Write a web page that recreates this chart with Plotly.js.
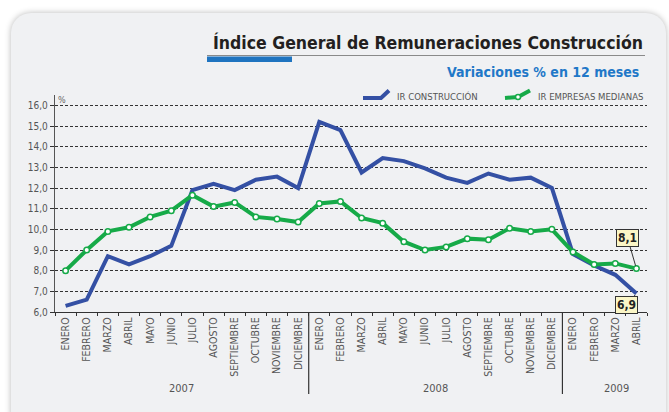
<!DOCTYPE html>
<html>
<head>
<meta charset="utf-8">
<script src="https://cdn.plot.ly/plotly-3.0.1.min.js"></script>
<style>
  html, body { margin: 0; padding: 0; background: #ffffff; width: 669px; height: 412px; overflow: hidden; }
  #card { position: absolute; left: 11px; top: 13px; width: 655px; height: 420px; border-radius: 20px;
          background: #f0f1f3; box-shadow: 0 0 6px rgba(0,0,0,0.28); }
  #chart { position: absolute; left: 0; top: 0; width: 669px; height: 412px; }
</style>
</head>
<body>
<div id="card"></div>
<div id="chart"></div>
<script>
// ---- Data ----
const months = ['ENERO','FEBRERO','MARZO','ABRIL','MAYO','JUNIO','JULIO','AGOSTO','SEPTIEMBRE','OCTUBRE','NOVIEMBRE','DICIEMBRE'];
const years = ['2007','2008','2009'];
const monthsPerYear = [12, 12, 4];
const irConstruccion = [6.3, 6.6, 8.7, 8.3, 8.7, 9.2, 11.9, 12.2, 11.9, 12.4, 12.55, 12.0,
                        15.2, 14.8, 12.75, 13.45, 13.3, 12.95, 12.5, 12.25, 12.7, 12.4, 12.5, 12.0,
                        8.8, 8.25, 7.8, 6.9];
const irEmpresasMedianas = [8.0, 9.0, 9.9, 10.1, 10.6, 10.9, 11.65, 11.1, 11.3, 10.6, 10.5, 10.35,
                            11.25, 11.35, 10.55, 10.3, 9.4, 9.0, 9.15, 9.55, 9.5, 10.05, 9.9, 10.0,
                            8.9, 8.3, 8.35, 8.1];
const seriesNames = ['IR CONSTRUCCIÓN', 'IR EMPRESAS MEDIANAS'];
const titleText = 'Índice General de Remuneraciones Construcción';
const subtitleText = 'Variaciones % en 12 meses';

// ---- Build categories ----
const cats = [], labels = [], yearStart = [];
years.forEach((yr, i) => {
  yearStart.push(cats.length);
  for (let m = 0; m < monthsPerYear[i]; m++) { cats.push(months[m] + ' ' + yr); labels.push(months[m]); }
});

// ---- Geometry helpers (pixel -> paper) ----
const W = 669, H = 412, L = 55, R = 22, T = 95, B = 100;
const pw = W - L - R, ph = H - T - B;
const px = x => (x - L) / pw;
const py = y => (H - B - y) / ph;

const BLUE = 'rgb(52,80,164)';
const GREEN = 'rgb(22,170,72)';
const NARROW = '"Liberation Sans Narrow", "Arial Narrow", "DejaVu Sans Condensed", sans-serif';

const traces = [
  { x: cats, y: irConstruccion, type: 'scatter', mode: 'lines', name: seriesNames[0],
    line: { color: BLUE, width: 4 }, showlegend: false, hoverinfo: 'skip' },
  { x: cats, y: irEmpresasMedianas, type: 'scatter', mode: 'lines+markers', name: seriesNames[1],
    line: { color: GREEN, width: 4 },
    marker: { size: 5.5, color: '#ffffff', line: { color: GREEN, width: 1.5 } },
    showlegend: false, hoverinfo: 'skip' }
];

const shapes = [];
// title underline + blue accent bar
shapes.push({ type: 'line', xref: 'paper', yref: 'paper', x0: px(207), x1: px(645), y0: py(55.5), y1: py(55.5),
              line: { color: '#8a8a8a', width: 1 } });
shapes.push({ type: 'rect', xref: 'paper', yref: 'paper', x0: px(207), x1: px(292), y0: py(62), y1: py(56.5),
              fillcolor: '#1f74c0', line: { width: 0 } });
// year dividers
[yearStart[1], yearStart[2]].forEach(i => {
  shapes.push({ type: 'line', xref: 'x', yref: 'paper', x0: i - 0.5, x1: i - 0.5, y0: 0, y1: py(394),
                line: { color: '#333', width: 1.2 } });
});
// legend symbols
const pPath = pts => 'M ' + pts.map(p => px(p[0]) + ',' + py(p[1])).join(' L ');
shapes.push({ type: 'path', xref: 'paper', yref: 'paper', path: pPath([[363,98],[381,98],[389,90.5]]),
              line: { color: BLUE, width: 4 } });
shapes.push({ type: 'path', xref: 'paper', yref: 'paper', path: pPath([[505,98],[518,97],[530,90.5]]),
              line: { color: GREEN, width: 4 } });
shapes.push({ type: 'circle', xref: 'paper', yref: 'paper', x0: px(515.5), x1: px(520.5), y0: py(99.5), y1: py(94.5),
              fillcolor: '#fff', line: { color: GREEN, width: 1.5 } });

const annotations = [
  { xref: 'paper', yref: 'paper', x: px(645), y: py(43), xanchor: 'right', yanchor: 'middle', showarrow: false,
    text: '<b>' + titleText + '</b>', font: { family: NARROW, size: 17.5, color: '#231f20' } },
  { xref: 'paper', yref: 'paper', x: px(641), y: py(72), xanchor: 'right', yanchor: 'middle', showarrow: false,
    text: '<b>' + subtitleText + '</b>', font: { family: NARROW, size: 14, color: '#1f78c8' } },
  { xref: 'paper', yref: 'paper', x: px(395), y: py(96), xanchor: 'left', yanchor: 'middle', showarrow: false,
    text: seriesNames[0], font: { family: NARROW, size: 9.5, color: '#555' } },
  { xref: 'paper', yref: 'paper', x: px(536), y: py(96), xanchor: 'left', yanchor: 'middle', showarrow: false,
    text: seriesNames[1], font: { family: NARROW, size: 9.5, color: '#555' } },
  { xref: 'paper', yref: 'paper', x: px(56), y: py(100), xanchor: 'left', yanchor: 'middle', showarrow: false,
    text: '%', font: { family: NARROW, size: 9, color: '#666' } }
];
// year labels
years.forEach((yr, i) => {
  const s = yearStart[i], e = s + monthsPerYear[i] - 1;
  let cx = (s + e) / 2;
  if (i === 2) cx = 26.05;
  annotations.push({ xref: 'x', yref: 'paper', x: cx, y: py(388), xanchor: 'center', yanchor: 'middle',
                     showarrow: false, text: yr, font: { family: NARROW, size: 11, color: '#555' } });
});
// end value callouts
const last = cats.length - 1;
const fmt = v => v.toFixed(1).replace('.', ',');
annotations.push({ xref: 'x', yref: 'y', x: last, y: irEmpresasMedianas[last], ax: -9, ay: -31,
  text: '<b>' + fmt(irEmpresasMedianas[last]) + '</b>', showarrow: true, arrowhead: 0, arrowwidth: 1, arrowcolor: '#333',
  standoff: 3, bgcolor: '#fbf6c6', bordercolor: '#333', borderwidth: 1, borderpad: 1,
  font: { family: NARROW, size: 12, color: '#222' } });
annotations.push({ xref: 'x', yref: 'y', x: last, y: irConstruccion[last], ax: -10, ay: 12,
  text: '<b>' + fmt(irConstruccion[last]) + '</b>', showarrow: true, arrowhead: 0, arrowwidth: 1, arrowcolor: '#333',
  standoff: 2, bgcolor: '#fbf6c6', bordercolor: '#333', borderwidth: 1, borderpad: 1,
  font: { family: NARROW, size: 12, color: '#222' } });

const layout = {
  width: W, height: H,
  margin: { l: L, r: R, t: T, b: B, pad: 0 },
  paper_bgcolor: 'rgba(0,0,0,0)', plot_bgcolor: 'rgba(0,0,0,0)',
  separators: ',.',
  showlegend: false,
  font: { family: NARROW, color: '#555' },
  xaxis: {
    type: 'category', categoryorder: 'array', categoryarray: cats,
    tickmode: 'array', tickvals: cats, ticktext: labels,
    tickson: 'boundaries', ticks: 'outside', ticklen: 3, tickcolor: '#333', tickwidth: 1,
    tickangle: -90, tickfont: { family: NARROW, size: 10.5, color: '#555' },
    showgrid: false, zeroline: false, showline: true, linecolor: '#333', linewidth: 1.2,
    range: [-0.5, cats.length - 0.5], fixedrange: true
  },
  yaxis: {
    range: [6, 16.5], tick0: 6, dtick: 1, tickformat: '.1f',
    ticks: 'outside', ticklen: 4, tickcolor: '#333', tickwidth: 1,
    tickfont: { family: NARROW, size: 10, color: '#555' },
    showgrid: true, gridcolor: '#333', gridwidth: 1, griddash: '3px,2px',
    zeroline: false, showline: true, linecolor: '#555', linewidth: 1.2, fixedrange: true
  },
  shapes: shapes,
  annotations: annotations
};

Plotly.newPlot('chart', traces, layout, { displayModeBar: false, staticPlot: true });
</script>
</body>
</html>
